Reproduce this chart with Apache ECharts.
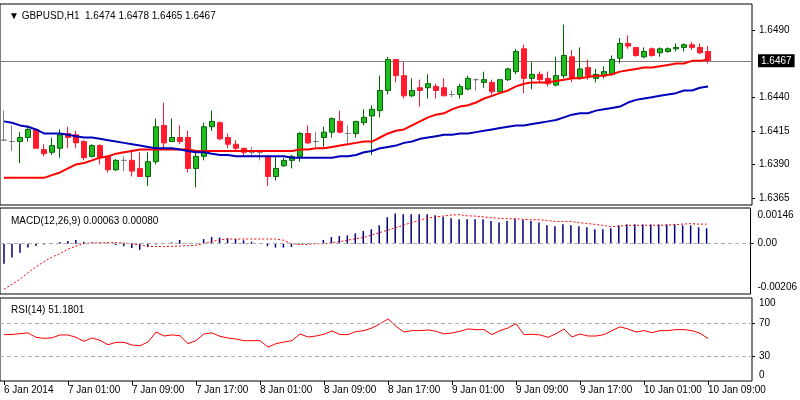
<!DOCTYPE html>
<html>
<head>
<meta charset="utf-8">
<script src="https://cdn.jsdelivr.net/npm/echarts@6/dist/echarts.min.js"></script>
<style>
  html, body { margin: 0; padding: 0; background: #fff; }
  #chart-container { width: 800px; height: 400px; }
</style>
</head>
<body>
<div id="chart-container"></div>
<script>
// hourly candles, [open, close, low, high]
var ohlc = [
  [1.6408, 1.6408, 1.6408, 1.6430], [1.6407, 1.6407, 1.6400, 1.6419], [1.6407, 1.6410, 1.6391, 1.6414],
  [1.6410, 1.6416, 1.6407, 1.6419], [1.6416, 1.6402, 1.6402, 1.6416], [1.6401, 1.6398, 1.6396, 1.6405],
  [1.6399, 1.6404, 1.6397, 1.6410], [1.6402, 1.6412, 1.6395, 1.6416], [1.6413, 1.6410, 1.6402, 1.6418],
  [1.6412, 1.6406, 1.6402, 1.6415], [1.6407, 1.6395, 1.6393, 1.6408], [1.6396, 1.6404, 1.6395, 1.6405],
  [1.6404, 1.6395, 1.6390, 1.6405], [1.6396, 1.6386, 1.6384, 1.6396], [1.6386, 1.6393, 1.6385, 1.6394],
  [1.6393, 1.6393, 1.6385, 1.6396], [1.6393, 1.6385, 1.6381, 1.6401], [1.6387, 1.6381, 1.6381, 1.6399],
  [1.6381, 1.6392, 1.6374, 1.6399], [1.6392, 1.6418, 1.6390, 1.6424], [1.6419, 1.6406, 1.6402, 1.6436],
  [1.6407, 1.6410, 1.6407, 1.6424], [1.6410, 1.6407, 1.6405, 1.6419], [1.6410, 1.6387, 1.6384, 1.6415],
  [1.6387, 1.6396, 1.6373, 1.6399], [1.6396, 1.6418, 1.6393, 1.6421], [1.6418, 1.6422, 1.6415, 1.6430],
  [1.6421, 1.6409, 1.6408, 1.6422], [1.6410, 1.6405, 1.6402, 1.6413], [1.6405, 1.6402, 1.6399, 1.6408],
  [1.6402, 1.6399, 1.6396, 1.6402], [1.6399, 1.6399, 1.6396, 1.6403], [1.6399, 1.6399, 1.6393, 1.6401],
  [1.6396, 1.6381, 1.6374, 1.6396], [1.6381, 1.6387, 1.6378, 1.6396], [1.6389, 1.6393, 1.6388, 1.6395],
  [1.6393, 1.6396, 1.6387, 1.6397], [1.6396, 1.6413, 1.6392, 1.6414], [1.6413, 1.6406, 1.6405, 1.6419],
  [1.6407, 1.6407, 1.6403, 1.6414], [1.6410, 1.6414, 1.6403, 1.6418], [1.6414, 1.6424, 1.6410, 1.6425],
  [1.6422, 1.6414, 1.6413, 1.6430], [1.6413, 1.6413, 1.6406, 1.6419], [1.6413, 1.6422, 1.6410, 1.6422],
  [1.6421, 1.6425, 1.6419, 1.6431], [1.6426, 1.6431, 1.6397, 1.6434], [1.6430, 1.6445, 1.6425, 1.6456],
  [1.6445, 1.6468, 1.6442, 1.6470], [1.6468, 1.6456, 1.6451, 1.6468], [1.6456, 1.6441, 1.6439, 1.6466],
  [1.6441, 1.6445, 1.6440, 1.6454], [1.6447, 1.6445, 1.6433, 1.6453], [1.6447, 1.6450, 1.6439, 1.6457],
  [1.6448, 1.6445, 1.6439, 1.6450], [1.6447, 1.6441, 1.6441, 1.6454], [1.6442, 1.6442, 1.6440, 1.6445],
  [1.6442, 1.6448, 1.6439, 1.6450], [1.6446, 1.6454, 1.6445, 1.6456], [1.6453, 1.6453, 1.6445, 1.6454],
  [1.6451, 1.6453, 1.6447, 1.6459], [1.6451, 1.6444, 1.6442, 1.6453], [1.6444, 1.6453, 1.6444, 1.6453],
  [1.6453, 1.6461, 1.6452, 1.6462], [1.6459, 1.6474, 1.6457, 1.6476], [1.6476, 1.6454, 1.6443, 1.6479],
  [1.6454, 1.6457, 1.6446, 1.6466], [1.6457, 1.6453, 1.6451, 1.6459], [1.6454, 1.6450, 1.6448, 1.6459],
  [1.6449, 1.6456, 1.6448, 1.6470], [1.6456, 1.6471, 1.6454, 1.6494], [1.6470, 1.6454, 1.6451, 1.6475],
  [1.6454, 1.6461, 1.6453, 1.6477], [1.6462, 1.6456, 1.6453, 1.6468], [1.6454, 1.6457, 1.6451, 1.6461],
  [1.6456, 1.6459, 1.6454, 1.6463], [1.6457, 1.6468, 1.6456, 1.6471], [1.6469, 1.6480, 1.6465, 1.6484],
  [1.6480, 1.6478, 1.6476, 1.6486], [1.6477, 1.6471, 1.6470, 1.6477], [1.6470, 1.6474, 1.6469, 1.6477],
  [1.6476, 1.6471, 1.6470, 1.6477], [1.6473, 1.6476, 1.6470, 1.6477], [1.6474, 1.6476, 1.6473, 1.6477],
  [1.6476, 1.6477, 1.6474, 1.6480], [1.6477, 1.6479, 1.6474, 1.6480], [1.6479, 1.6477, 1.6475, 1.6481],
  [1.6477, 1.6473, 1.6472, 1.6480], [1.6474, 1.6467, 1.6465, 1.6478]
];

var maFast = [
  1.6380, 1.6380, 1.6380, 1.6380, 1.6380, 1.6380, 1.6382, 1.6384, 1.6387, 1.6390,
  1.6391, 1.6393, 1.6395, 1.6396, 1.6398, 1.6399, 1.6400, 1.6401, 1.6401, 1.6401,
  1.6401, 1.6401, 1.6401, 1.6401, 1.6400, 1.6400, 1.6400, 1.6400, 1.6400, 1.6400,
  1.6400, 1.6400, 1.6400, 1.6400, 1.6400, 1.6400, 1.6400, 1.6401, 1.6401, 1.6402,
  1.6402, 1.6403, 1.6404, 1.6405, 1.6406, 1.6407, 1.6407, 1.6410, 1.6413, 1.6415,
  1.6416, 1.6419, 1.6422, 1.6425, 1.6427, 1.6428, 1.6431, 1.6433, 1.6434, 1.6436,
  1.6439, 1.6441, 1.6443, 1.6445, 1.6448, 1.6450, 1.6451, 1.6451, 1.6451, 1.6452,
  1.6453, 1.6454, 1.6454, 1.6455, 1.6456, 1.6456, 1.6457, 1.6459, 1.6460, 1.6461,
  1.6462, 1.6462, 1.6463, 1.6464, 1.6465, 1.6465, 1.6467, 1.6467, 1.6468
];

var maSlow = [
  1.6422, 1.6421, 1.6419, 1.6418, 1.6416, 1.6413, 1.6413, 1.6413, 1.6412, 1.6411,
  1.6410, 1.6410, 1.6409, 1.6408, 1.6407, 1.6406, 1.6405, 1.6404, 1.6403, 1.6402,
  1.6402, 1.6402, 1.6401, 1.6400, 1.6399, 1.6399, 1.6398, 1.6397, 1.6397, 1.6396,
  1.6396, 1.6396, 1.6396, 1.6396, 1.6396, 1.6396, 1.6395, 1.6395, 1.6395, 1.6395,
  1.6395, 1.6395, 1.6396, 1.6396, 1.6397, 1.6399, 1.6400, 1.6402, 1.6403, 1.6404,
  1.6406, 1.6407, 1.6409, 1.6410, 1.6411, 1.6412, 1.6412, 1.6413, 1.6413, 1.6414,
  1.6415, 1.6416, 1.6417, 1.6418, 1.6419, 1.6419, 1.6420, 1.6421, 1.6422, 1.6423,
  1.6425, 1.6427, 1.6428, 1.6428, 1.6430, 1.6431, 1.6432, 1.6433, 1.6436, 1.6438,
  1.6439, 1.6440, 1.6441, 1.6442, 1.6443, 1.6445, 1.6445, 1.6447, 1.6448
];

var macdHist = [
  -0.00082, -0.00057, -0.00037, -0.00016, -0.00010, -0.00003, 0.00003, 0.00007, 0.00011, 0.00015,
  0.00008, 0.00005, 0.00003, 0.00001, -0.00005, -0.00011, -0.00018, -0.00025, -0.00014, -0.00003,
  0.00001, 0.00005, 0.00015, 0.00001, -0.00001, 0.00019, 0.00027, 0.00025, 0.00022, 0.00019,
  0.00014, 0.00008, 0.00001, -0.00010, -0.00016, -0.00016, -0.00014, -0.00003, -0.00002, 0.00001,
  0.00015, 0.00027, 0.00031, 0.00034, 0.00042, 0.00052, 0.00059, 0.00075, 0.00108, 0.00124,
  0.00120, 0.00120, 0.00120, 0.00120, 0.00116, 0.00109, 0.00104, 0.00100, 0.00100, 0.00100,
  0.00100, 0.00093, 0.00087, 0.00093, 0.00102, 0.00098, 0.00093, 0.00087, 0.00075, 0.00071,
  0.00079, 0.00075, 0.00071, 0.00067, 0.00059, 0.00059, 0.00063, 0.00075, 0.00079, 0.00079,
  0.00079, 0.00079, 0.00079, 0.00079, 0.00079, 0.00075, 0.00075, 0.00067, 0.00063
];

var macdSignal = [
  -0.00187, -0.00166, -0.00146, -0.00119, -0.00095, -0.00074, -0.00055, -0.00041, -0.00023, -0.00010,
  0.00000, 0.00003, 0.00004, 0.00004, 0.00004, 0.00003, -0.00001, -0.00005, -0.00011, -0.00012,
  -0.00012, -0.00011, -0.00010, -0.00008, -0.00007, 0.00000, 0.00008, 0.00016, 0.00019, 0.00019,
  0.00019, 0.00019, 0.00019, 0.00019, 0.00019, 0.00014, 0.00000, -0.00003, -0.00003, 0.00000,
  0.00000, 0.00003, 0.00008, 0.00014, 0.00020, 0.00025, 0.00035, 0.00045, 0.00055, 0.00065,
  0.00075, 0.00086, 0.00095, 0.00104, 0.00109, 0.00113, 0.00117, 0.00119, 0.00114, 0.00113,
  0.00110, 0.00106, 0.00104, 0.00102, 0.00102, 0.00100, 0.00098, 0.00098, 0.00095, 0.00091,
  0.00091, 0.00091, 0.00086, 0.00083, 0.00079, 0.00075, 0.00070, 0.00071, 0.00075, 0.00075,
  0.00075, 0.00075, 0.00075, 0.00076, 0.00078, 0.00080, 0.00082, 0.00080, 0.00080
];

var rsi = [
  55.9, 56.0, 57.0, 58.0, 52.6, 51.4, 52.0, 55.5, 55.5, 52.6,
  47.8, 51.8, 49.0, 43.7, 46.6, 46.6, 43.3, 42.5, 47.0, 59.0,
  54.2, 55.5, 54.6, 45.0, 48.6, 56.7, 58.0, 53.8, 51.8, 50.6,
  48.6, 48.6, 48.6, 40.9, 45.0, 47.0, 48.6, 56.7, 53.0, 54.2,
  56.3, 60.3, 55.9, 55.9, 59.5, 60.7, 63.9, 68.8, 74.8, 66.0,
  59.0, 60.7, 60.7, 61.5, 59.9, 56.7, 57.9, 59.9, 62.7, 61.9,
  61.9, 55.9, 60.7, 63.9, 69.2, 55.9, 56.3, 55.5, 52.6, 57.0,
  62.7, 53.0, 56.7, 54.2, 54.2, 55.9, 60.7, 65.2, 62.7, 59.0,
  60.7, 58.3, 60.7, 60.7, 61.9, 61.9, 60.7, 57.5, 51.2
];

var timeLabels = ['6 Jan 2014', '7 Jan 01:00', '7 Jan 09:00', '7 Jan 17:00', '8 Jan 01:00', '8 Jan 09:00',
  '8 Jan 17:00', '9 Jan 01:00', '9 Jan 09:00', '9 Jan 17:00', '10 Jan 01:00', '10 Jan 09:00'];
var priceTicks = [1.6365, 1.6390, 1.6415, 1.6440, 1.6490];
var lastPrice = 1.6467;

var dom = document.getElementById('chart-container');
var myChart = echarts.init(dom, null, { renderer: 'canvas' });

var FONT = 'Liberation Sans';
// a few empty slots after the last candle, like the terminal's right margin
var cats = [];
for (var i = 0; i < 94; i++) cats.push(i);

var candleData = ohlc.map(function (d) {
  if (d[0] === d[1]) {
    return { value: d, itemStyle: { color: '#808080', color0: '#808080', borderColor: '#808080', borderColor0: '#808080' } };
  }
  return d;
});

function isTick(idx) { return idx % 8 === 0 && idx <= 88; }

var hiddenX = { type: 'category', data: cats, show: false, boundaryGap: true };
var rightAxis = {
  position: 'right',
  axisLine: { show: false },
  axisTick: { show: true, length: 3, lineStyle: { color: '#000' } },
  splitLine: { show: false },
  axisLabel: { color: '#000', fontFamily: FONT, fontSize: 10, margin: 7 }
};

var option = {
  animation: false,
  backgroundColor: '#fff',
  textStyle: { fontFamily: FONT },
  title: [
    { text: '▼ GBPUSD,H1  1.6474 1.6478 1.6465 1.6467', left: 4, top: 6,
      textStyle: { fontSize: 10, fontWeight: 'normal', color: '#000', fontFamily: FONT } },
    { text: 'MACD(12,26,9) 0.00063 0.00080', left: 6, top: 211,
      textStyle: { fontSize: 10, fontWeight: 'normal', color: '#000', fontFamily: FONT } },
    { text: 'RSI(14) 51.1801', left: 6, top: 300,
      textStyle: { fontSize: 10, fontWeight: 'normal', color: '#000', fontFamily: FONT } }
  ],
  grid: [
    { left: 0, right: 48, top: 4, height: 201, show: true, borderColor: '#000', borderWidth: 1 },
    { left: 0, right: 48, top: 208, height: 86, show: true, borderColor: '#000', borderWidth: 1 },
    { left: 0, right: 48, top: 298, height: 83, show: true, borderColor: '#000', borderWidth: 1 }
  ],
  xAxis: [
    Object.assign({ gridIndex: 0 }, hiddenX),
    Object.assign({ gridIndex: 1 }, hiddenX),
    {
      gridIndex: 2, type: 'category', data: cats, boundaryGap: true,
      axisLine: { show: false },
      axisTick: { show: true, alignWithLabel: true, length: 4, interval: isTick, lineStyle: { color: '#000' } },
      axisLabel: {
        interval: isTick, align: 'left', margin: 4, color: '#000', fontFamily: FONT, fontSize: 10,
        formatter: function (v, idx) { return timeLabels[idx / 8] || ''; }
      }
    }
  ],
  yAxis: [
    Object.assign({}, rightAxis, {
      gridIndex: 0, type: 'value', min: 1.63598, max: 1.65093,
      axisLabel: Object.assign({}, rightAxis.axisLabel, { customValues: priceTicks, formatter: function (v) { return v.toFixed(4); } }),
      axisTick: Object.assign({}, rightAxis.axisTick, { customValues: priceTicks })
    }),
    Object.assign({}, rightAxis, {
      gridIndex: 1, type: 'value', min: -0.00206, max: 0.00146,
      axisLabel: Object.assign({}, rightAxis.axisLabel, {
        customValues: [-0.00177, 0, 0.00117],
        formatter: function (v) { return v > 0.0001 ? '0.00146' : (v < -0.0001 ? '-0.00206' : '0.00'); }
      }),
      axisTick: Object.assign({}, rightAxis.axisTick, { customValues: [0] })
    }),
    Object.assign({}, rightAxis, {
      gridIndex: 2, type: 'value', min: 0, max: 100,
      axisLabel: Object.assign({}, rightAxis.axisLabel, {
        customValues: [7, 30, 70, 94],
        formatter: function (v) { return v > 90 ? '100' : (v < 10 ? '0' : String(v)); }
      }),
      axisTick: Object.assign({}, rightAxis.axisTick, { customValues: [30, 70] })
    })
  ],
  series: [
    {
      type: 'candlestick', xAxisIndex: 0, yAxisIndex: 0, barWidth: 6,
      data: candleData,
      itemStyle: { color: '#22bb22', color0: '#ff1a2e', borderColor: '#006600', borderColor0: '#ff1a2e', borderWidth: 1 }
    },
    {
      type: 'line', xAxisIndex: 0, yAxisIndex: 0, data: maFast, showSymbol: false, symbol: 'none',
      lineStyle: { color: '#ff0000', width: 2 },
      markLine: {
        silent: true, symbol: 'none', z: 1,
        data: [[{ coord: [0, lastPrice], x: 0 }, { coord: [93, lastPrice], x: 752 }]],
        lineStyle: { color: '#808080', type: 'solid', width: 1 },
        label: {
          position: 'end', distance: 6, formatter: lastPrice.toFixed(4),
          backgroundColor: '#000', color: '#fff', fontFamily: FONT, fontSize: 10, padding: [2, 3, 1, 3]
        }
      }
    },
    { type: 'line', xAxisIndex: 0, yAxisIndex: 0, data: maSlow, showSymbol: false, symbol: 'none',
      lineStyle: { color: '#0000bb', width: 2 } },
    {
      type: 'bar', xAxisIndex: 1, yAxisIndex: 1, data: macdHist, barWidth: 1.5,
      itemStyle: { color: '#000080' },
      markLine: {
        silent: true, symbol: 'none', label: { show: false },
        data: [{ yAxis: 0 }],
        lineStyle: { color: '#b0b0b0', type: [4, 3], width: 1 }
      }
    },
    { type: 'line', xAxisIndex: 1, yAxisIndex: 1, data: macdSignal, showSymbol: false, symbol: 'none',
      lineStyle: { color: '#ff0000', width: 1, type: [2, 2] } },
    {
      type: 'line', xAxisIndex: 2, yAxisIndex: 2, data: rsi, showSymbol: false, symbol: 'none',
      lineStyle: { color: '#ff0000', width: 1 },
      markLine: {
        silent: true, symbol: 'none', label: { show: false },
        data: [{ yAxis: 30 }, { yAxis: 70 }],
        lineStyle: { color: '#b0b0b0', type: [4, 3], width: 1 }
      }
    }
  ]
};

myChart.setOption(option);
window.addEventListener('resize', myChart.resize);
</script>
</body>
</html>
